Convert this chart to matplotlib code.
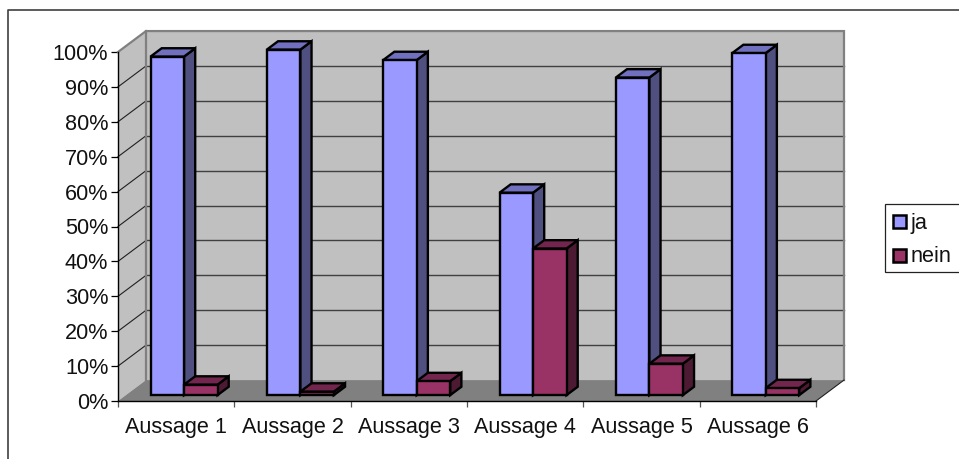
import matplotlib
matplotlib.use('Agg')
import matplotlib.pyplot as plt
from matplotlib.patches import Polygon, Rectangle
from matplotlib.lines import Line2D
import numpy as np

plt.rcParams['font.family'] = ['Liberation Sans', 'DejaVu Sans']

categories = ['Aussage 1', 'Aussage 2', 'Aussage 3', 'Aussage 4', 'Aussage 5', 'Aussage 6']
ja = [97, 99, 96, 58, 91, 98]
nein = [3, 1, 4, 42, 9, 2]
y_ticks = [0, 10, 20, 30, 40, 50, 60, 70, 80, 90, 100]

W, H = 959, 459

# oblique offset of the back wall, in axis units
DEPTH_X = 28 / 116.33
DEPTH_Y = 6.0

BAR_WIDTH = 0.288
BAR_MARGIN = 0.212
BAR_D0 = 0.28
BAR_D1 = 0.68
FONT = 15.6

fig = plt.figure(figsize=(W / 100, H / 100), dpi=100)
ax = fig.add_axes([118 / W, (H - 401) / H, 698 / W, 349 / H])
ax.set_xlim(0, 6)
ax.set_ylim(0, 100)
ax.patch.set_visible(False)


def proj(x, y, d):
    return (x + d * DEPTH_X, y + d * DEPTH_Y)


def face(points, color, z, ec='none', lw=0):
    ax.add_patch(Polygon(points, closed=True, facecolor=color, edgecolor=ec,
                         linewidth=lw, zorder=z, clip_on=False, joinstyle='miter'))


# walls and floor
face([proj(0, 0, 1), proj(6, 0, 1), proj(6, 100, 1), proj(0, 100, 1)], '#c0c0c0', 1)
face([proj(0, 0, 0), proj(0, 0, 1), proj(0, 100, 1), proj(0, 100, 0)], '#c0c0c0', 1)
face([proj(0, 0, 0), proj(6, 0, 0), proj(6, 0, 1), proj(0, 0, 1)], '#808080', 1)

# grid lines on the back and side walls
for t in y_ticks[1:-1]:
    x0, y0 = proj(0, t, 1)
    x1, y1 = proj(6, t, 1)
    ax.plot([x0, x1], [y0, y1], color='#404040', lw=1.0, zorder=2, clip_on=False)
    ax.plot([0, x0], [t, y0], color='#202020', lw=0.8, zorder=2, clip_on=False)

# grey wall outline
outline = [proj(0, 100, 0), proj(0, 100, 1), proj(6, 100, 1), proj(6, 0, 1)]
ax.plot(*zip(*outline), color='#808080', lw=1.6, zorder=3, clip_on=False, solid_joinstyle='miter')
ax.plot(*zip(proj(0, 100, 1), proj(0, 0, 1)), color='#808080', lw=1.6, zorder=3, clip_on=False)
ax.plot(*zip(proj(6, 0, 0), proj(6, 0, 1)), color='#202020', lw=0.8, zorder=3, clip_on=False)


def bar3d(x, value, front, top, side, z):
    w = BAR_WIDTH
    # side and top first so the front outline stays on top
    face([proj(x + w, 0, BAR_D0), proj(x + w, 0, BAR_D1),
          proj(x + w, value, BAR_D1), proj(x + w, value, BAR_D0)], side, z, 'black', 1.7)
    face([proj(x, value, BAR_D0), proj(x + w, value, BAR_D0),
          proj(x + w, value, BAR_D1), proj(x, value, BAR_D1)], top, z, 'black', 1.7)
    face([proj(x, 0, BAR_D0), proj(x + w, 0, BAR_D0),
          proj(x + w, value, BAR_D0), proj(x, value, BAR_D0)], front, z, 'black', 1.7)


for i in range(len(categories)):
    bar3d(i + BAR_MARGIN, ja[i], '#9999ff', '#7070bf', '#4f4f80', 4 + i * 0.1)
    bar3d(i + BAR_MARGIN + BAR_WIDTH, nein[i], '#993366', '#73264d', '#4d1a33', 4.05 + i * 0.1)

# axes
for s in ['top', 'right']:
    ax.spines[s].set_visible(False)
for s in ['left', 'bottom']:
    ax.spines[s].set_linewidth(1.0)
    ax.spines[s].set_zorder(3)
ax.set_yticks(y_ticks)
ax.set_yticklabels([f'{t}%' for t in y_ticks], fontsize=FONT, color='#111111')
ax.tick_params(axis='y', length=5, width=0.9, pad=2)
ax.set_xticks(np.arange(0, 7))
ax.set_xticklabels([])
ax.tick_params(axis='x', which='major', length=4, width=0.9, color='#555555')
ax.set_xticks(np.arange(6) + 0.5, categories, minor=True)
ax.tick_params(axis='x', which='minor', length=0, pad=11.5, labelsize=FONT, labelcolor='#111111')

# overlay in pixel units for the chart frame and legend
ov = fig.add_axes([0, 0, 1, 1], zorder=-1)
ov.set_xlim(0, W)
ov.set_ylim(H, 0)
ov.axis('off')
ov.add_line(Line2D([7.5, 7.5, W + 2], [H + 2, 10, 10], color='#404040', lw=1.2))

leg = fig.add_axes([0, 0, 1, 1], zorder=5)
leg.set_xlim(0, W)
leg.set_ylim(H, 0)
leg.axis('off')
leg.add_patch(Rectangle((884.5, 204), 80, 68, facecolor='white', edgecolor='#222222', lw=0.9))
leg.add_patch(Rectangle((892.5, 214.5), 13, 13, facecolor='#9999ff', edgecolor='black', lw=1.8))
leg.add_patch(Rectangle((892.5, 248.5), 13, 13, facecolor='#993366', edgecolor='black', lw=1.8))
leg.text(911, 229, 'ja', fontsize=FONT, va='baseline', ha='left', color='#111111')
leg.text(911, 262.5, 'nein', fontsize=FONT, va='baseline', ha='left', color='#111111')

fig.savefig('out.png', dpi=100)
